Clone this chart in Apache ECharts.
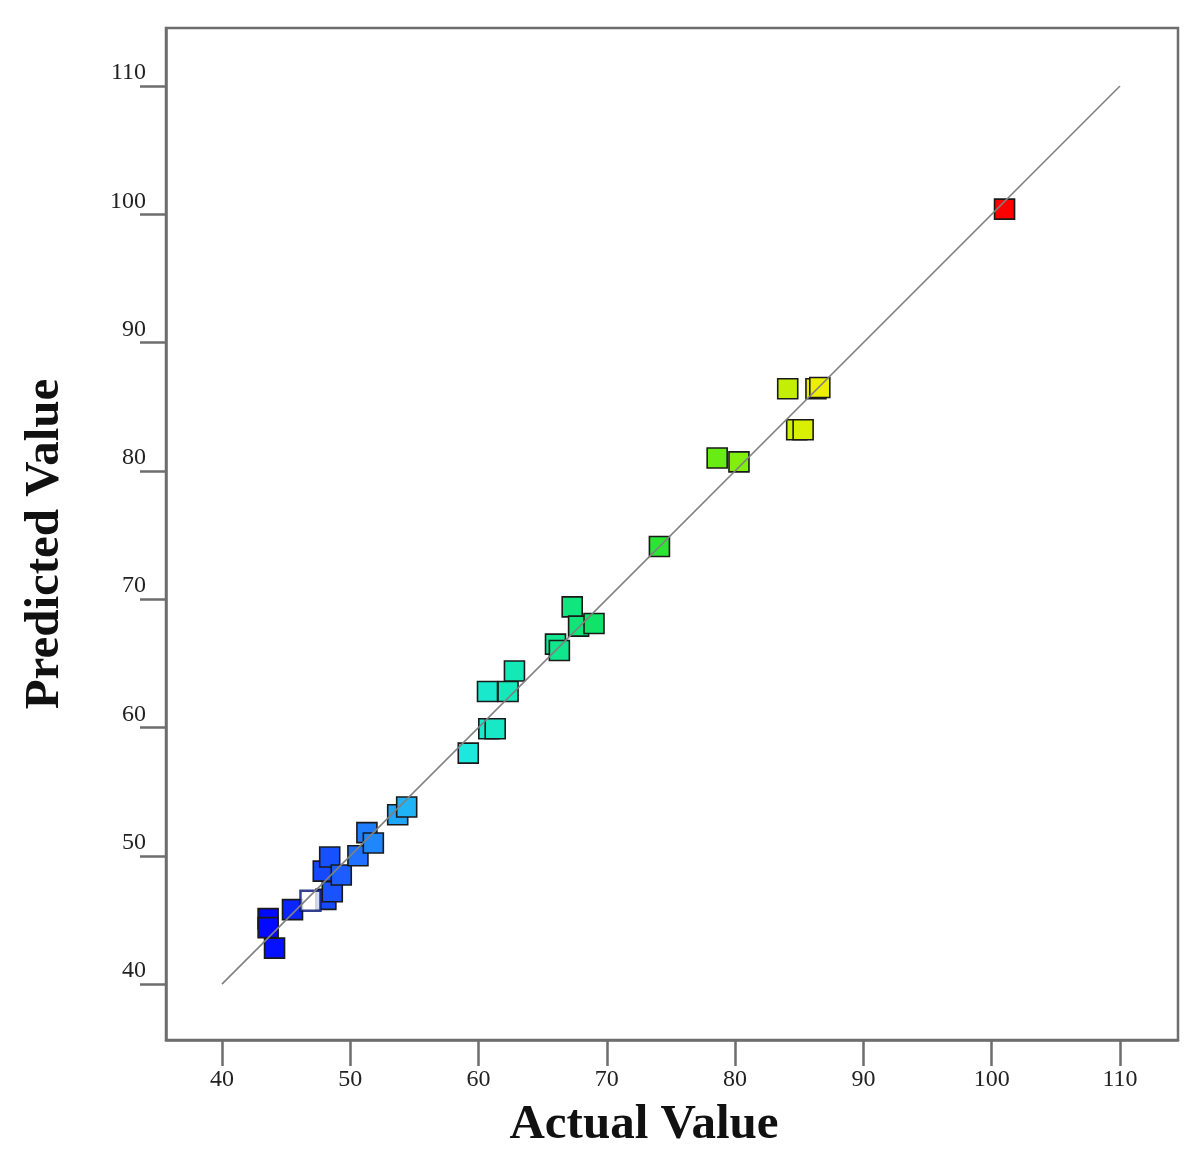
<!DOCTYPE html>
<html>
<head>
<meta charset="utf-8">
<script src="https://cdn.jsdelivr.net/npm/echarts@6/dist/echarts.min.js"></script>
<style>
  html, body { margin: 0; padding: 0; background: #fff; }
  #chart { width: 1198px; height: 1170px; }
</style>
</head>
<body>
<div id="chart"></div>
<script>
// actual vs predicted
var actual = [43.6, 43.6, 44.1, 45.5, 48.1, 48.6, 47.9, 48.4, 49.3, 50.6, 51.3, 51.8, 53.7, 54.4,
  59.2, 60.8, 61.3, 60.7, 62.3, 62.8, 66.0, 66.3, 67.3, 67.8, 69.0, 74.1, 78.6, 80.3,
  84.1, 86.3, 86.6, 84.8, 85.3, 101.0];
var predicted = [45.1, 44.4, 42.8, 45.8, 46.6, 47.2, 48.8, 49.9, 48.5, 50.0, 51.8, 51.0, 53.2, 53.8,
  58.0, 59.9, 59.9, 62.8, 62.8, 64.4, 66.5, 66.0, 69.4, 67.9, 68.1, 74.1, 81.0, 80.7,
  86.4, 86.4, 86.5, 83.2, 83.2, 100.4];
// the one hollow-looking square in the blue cluster
var whiteActual = [46.9];
var whitePredicted = [46.5];
var tickValues = [40, 50, 60, 70, 80, 90, 100, 110];
var fitLine = [40, 110];

var pts = actual.map(function (a, i) { return [a, predicted[i]]; });
var whitePts = whiteActual.map(function (a, i) { return [a, whitePredicted[i]]; });

var chart = echarts.init(document.getElementById('chart'));

var axisCommon = {
  type: 'value',
  min: 35.64,
  max: 114.52,
  splitLine: { show: false },
  axisLine: { show: true, lineStyle: { color: '#6e6e6e', width: 2.5 } },
  axisTick: { show: true, inside: false, length: 26, customValues: tickValues,
    lineStyle: { color: '#6e6e6e', width: 2.5 } },
  axisLabel: { customValues: tickValues, color: '#222',
    fontFamily: '"Liberation Serif", serif', fontSize: 24 }
};

var option = {
  animation: false,
  backgroundColor: '#fff',
  grid: {
    left: 166, top: 28, width: 1012, height: 1012,
    show: true, borderColor: '#6e6e6e', borderWidth: 2.5, backgroundColor: '#fff'
  },
  xAxis: echarts.util.merge({
    axisLabel: { margin: 28 }
  }, axisCommon),
  yAxis: echarts.util.merge({
    axisLabel: { margin: 20, verticalAlign: 'bottom', lineHeight: 26 }
  }, axisCommon),
  visualMap: {
    show: false,
    type: 'continuous',
    seriesIndex: 0,
    dimension: 0,
    min: 43,
    max: 101,
    inRange: {
      color: ['#0000ff', '#1f6bff', '#20e8f0', '#10e8a0', '#10e040', '#70ee10', '#eef000', '#ff8800', '#ff0000']
    }
  },
  graphic: [
    {
      type: 'text', x: 45, y: 544, rotation: Math.PI / 2,
      style: { text: 'Predicted Value', fill: '#111', align: 'center', verticalAlign: 'middle',
        font: 'bold 49px "Liberation Serif", serif' }
    },
    {
      type: 'text', x: 644, y: 1125,
      style: { text: 'Actual Value', fill: '#111', align: 'center', verticalAlign: 'middle',
        font: 'bold 49px "Liberation Serif", serif' }
    }
  ],
  series: [
    {
      type: 'scatter',
      data: pts,
      symbol: 'rect',
      symbolSize: 20,
      z: 2,
      itemStyle: { borderColor: '#1a1a1a', borderWidth: 1.6, opacity: 1 }
    },
    {
      type: 'scatter',
      data: whitePts,
      symbol: 'rect',
      symbolSize: 20,
      z: 2,
      itemStyle: { color: '#ffffff', borderColor: '#00106e', borderWidth: 2.5 }
    },
    {
      type: 'line',
      data: [[fitLine[0], fitLine[0]], [fitLine[1], fitLine[1]]],
      showSymbol: false,
      symbol: 'none',
      z: 3,
      lineStyle: { color: '#808080', width: 1.6 }
    }
  ]
};

chart.setOption(option);
</script>
</body>
</html>
